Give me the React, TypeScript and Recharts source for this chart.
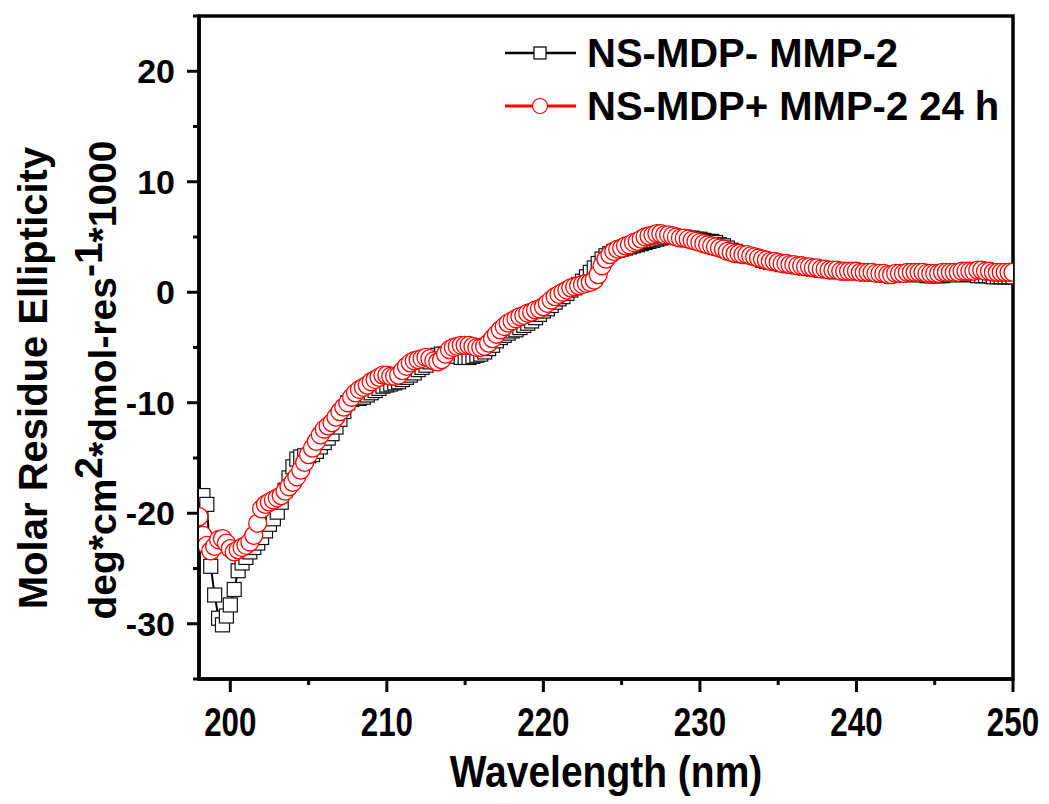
import React from 'react';
import { LineChart, Line, XAxis, YAxis, ReferenceArea } from 'recharts';

const wavelengths = [
  198.0, 198.25, 198.5, 198.75, 199.0, 199.25, 199.5, 199.75,
  200.0, 200.25, 200.5, 200.75, 201.0, 201.25, 201.5, 201.75,
  202.0, 202.25, 202.5, 202.75, 203.0, 203.25, 203.5, 203.75,
  204.0, 204.25, 204.5, 204.75, 205.0, 205.25, 205.5, 205.75,
  206.0, 206.25, 206.5, 206.75, 207.0, 207.25, 207.5, 207.75,
  208.0, 208.25, 208.5, 208.75, 209.0, 209.25, 209.5, 209.75,
  210.0, 210.25, 210.5, 210.75, 211.0, 211.25, 211.5, 211.75,
  212.0, 212.25, 212.5, 212.75, 213.0, 213.25, 213.5, 213.75,
  214.0, 214.25, 214.5, 214.75, 215.0, 215.25, 215.5, 215.75,
  216.0, 216.25, 216.5, 216.75, 217.0, 217.25, 217.5, 217.75,
  218.0, 218.25, 218.5, 218.75, 219.0, 219.25, 219.5, 219.75,
  220.0, 220.25, 220.5, 220.75, 221.0, 221.25, 221.5, 221.75,
  222.0, 222.25, 222.5, 222.75, 223.0, 223.25, 223.5, 223.75,
  224.0, 224.25, 224.5, 224.75, 225.0, 225.25, 225.5, 225.75,
  226.0, 226.25, 226.5, 226.75, 227.0, 227.25, 227.5, 227.75,
  228.0, 228.25, 228.5, 228.75, 229.0, 229.25, 229.5, 229.75,
  230.0, 230.25, 230.5, 230.75, 231.0, 231.25, 231.5, 231.75,
  232.0, 232.25, 232.5, 232.75, 233.0, 233.25, 233.5, 233.75,
  234.0, 234.25, 234.5, 234.75, 235.0, 235.25, 235.5, 235.75,
  236.0, 236.25, 236.5, 236.75, 237.0, 237.25, 237.5, 237.75,
  238.0, 238.25, 238.5, 238.75, 239.0, 239.25, 239.5, 239.75,
  240.0, 240.25, 240.5, 240.75, 241.0, 241.25, 241.5, 241.75,
  242.0, 242.25, 242.5, 242.75, 243.0, 243.25, 243.5, 243.75,
  244.0, 244.25, 244.5, 244.75, 245.0, 245.25, 245.5, 245.75,
  246.0, 246.25, 246.5, 246.75, 247.0, 247.25, 247.5, 247.75,
  248.0, 248.25, 248.5, 248.75, 249.0, 249.25, 249.5, 249.75,
  250.0,
];

const blackSeries: (number | null)[] = [
  null, -18.4, -19.2, -24.8, -27.4, -29.5, -30.1, -29.3,
  -28.3, -26.9, -25.2, -24.5, -24.0, -23.5, -23.1, -22.7,
  -22.2, -21.6, -21.0, -20.5, -19.9, -19.0, -17.9, -16.8,
  -15.8, -15.1, -14.9, -14.8, -14.8, -14.7, -14.4, -14.0,
  -13.6, -13.2, -12.8, -12.2, -11.5, -10.8, -10.0, -9.7,
  -9.6, -9.6, -9.5, -9.3, -9.1, -8.9, -8.7, -8.5,
  -8.4, -8.3, -8.2, -8.1, -7.9, -7.7, -7.5, -7.3,
  -7.0, -6.8, -6.6, -6.3, -6.0, -5.7, -5.6, -5.6,
  -5.6, -5.7, -5.8, -5.9, -5.9, -5.9, -5.8, -5.7,
  -5.6, -5.4, -5.1, -4.8, -4.4, -4.1, -3.9, -3.7,
  -3.5, -3.4, -3.2, -3.0, -2.8, -2.6, -2.3, -2.0,
  -1.7, -1.5, -1.2, -0.9, -0.6, -0.4, -0.1, 0.2,
  0.4, 0.7, 1.0, 1.4, 1.8, 2.2, 2.6, 3.0,
  3.3, 3.5, 3.7, 3.8, 3.9, 4.0, 4.1, 4.2,
  4.3, 4.4, 4.5, 4.6, 4.7, 4.8, 4.9, 5.0,
  5.0, 5.0, 5.0, 5.0, 5.0, 4.9, 4.9, 4.8,
  4.8, 4.7, 4.6, 4.6, 4.5, 4.3, 4.2, 4.0,
  3.8, 3.7, 3.5, 3.4, 3.4, 3.3, 3.2, 3.1,
  2.9, 2.8, 2.7, 2.7, 2.6, 2.5, 2.5, 2.4,
  2.4, 2.3, 2.3, 2.2, 2.2, 2.1, 2.1, 2.0,
  2.0, 2.0, 1.9, 1.9, 1.9, 1.9, 1.8, 1.8,
  1.8, 1.8, 1.8, 1.7, 1.7, 1.7, 1.7, 1.6,
  1.6, 1.6, 1.6, 1.6, 1.6, 1.6, 1.6, 1.6,
  1.6, 1.6, 1.5, 1.5, 1.5, 1.5, 1.5, 1.6,
  1.6, 1.6, 1.6, 1.6, 1.6, 1.6, 1.6, 1.5,
  1.5, 1.5, 1.5, 1.4, 1.4, 1.4, 1.4, 1.4,
  1.4,
];

const redSeries: (number | null)[] = [
  -20.3, -22.0, -22.9, -23.4, -23.0, -22.4, -22.3, -22.7,
  -23.2, -23.5, -23.3, -23.1, -22.9, -22.6, -22.0, -20.9,
  -19.6, -19.2, -19.0, -18.8, -18.6, -18.4, -18.0, -17.6,
  -17.2, -16.7, -16.1, -15.4, -14.7, -14.1, -13.5, -12.9,
  -12.4, -12.1, -11.8, -11.3, -10.8, -10.4, -10.0, -9.5,
  -9.1, -8.8, -8.6, -8.4, -8.1, -7.9, -7.7, -7.5,
  -7.5, -7.6, -7.6, -7.5, -7.1, -6.7, -6.4, -6.2,
  -6.1, -6.0, -5.9, -6.0, -6.2, -6.3, -6.1, -5.6,
  -5.2, -5.0, -4.9, -4.8, -4.8, -4.8, -4.9, -5.0,
  -5.0, -4.9, -4.6, -4.2, -3.8, -3.4, -3.1, -2.8,
  -2.6, -2.4, -2.2, -2.1, -1.9, -1.8, -1.6, -1.5,
  -1.3, -1.0, -0.7, -0.4, -0.2, 0.0, 0.2, 0.4,
  0.5, 0.6, 0.7, 0.8, 0.9, 1.1, 1.6, 2.4,
  3.0, 3.4, 3.7, 3.9, 4.0, 4.2, 4.3, 4.5,
  4.6, 4.8, 5.0, 5.1, 5.2, 5.3, 5.3, 5.2,
  5.2, 5.1, 5.0, 4.9, 4.9, 4.8, 4.7, 4.6,
  4.5, 4.4, 4.3, 4.2, 4.1, 4.0, 3.9, 3.7,
  3.6, 3.5, 3.5, 3.4, 3.4, 3.3, 3.2, 3.1,
  3.0, 2.9, 2.8, 2.8, 2.7, 2.6, 2.6, 2.5,
  2.5, 2.4, 2.4, 2.3, 2.3, 2.2, 2.2, 2.1,
  2.1, 2.0, 2.0, 2.0, 1.9, 1.9, 1.9, 1.9,
  1.9, 1.8, 1.8, 1.8, 1.8, 1.7, 1.7, 1.7,
  1.6, 1.6, 1.7, 1.7, 1.7, 1.8, 1.8, 1.8,
  1.8, 1.8, 1.7, 1.7, 1.7, 1.7, 1.8, 1.8,
  1.8, 1.8, 1.8, 1.9, 1.9, 1.9, 1.9, 2.0,
  2.0, 1.9, 1.9, 1.8, 1.8, 1.8, 1.8, 1.8,
  1.8,
];

const xTicks = [200, 205, 210, 215, 220, 225, 230, 235, 240, 245, 250];
const yTicks = [-35, -30, -25, -20, -15, -10, -5, 0, 5, 10, 15, 20, 25];
const seriesNames = ['NS-MDP- MMP-2', 'NS-MDP+ MMP-2 24 h'];
const xTitle = 'Wavelength (nm)';
const yTitle1 = 'Molar Residue Ellipticity';

const FONT = '"Liberation Sans", Arial, Helvetica, sans-serif';

const data = wavelengths.map((w, i) => ({ w, a: blackSeries[i], b: redSeries[i] }));

const XTick = (props: any) => {
  const { x, y, payload } = props;
  const v = payload.value;
  const major = v % 10 === 0;
  return (
    <g>
      <line x1={x} x2={x} y1={y} y2={y + (major ? 13 : 6)} stroke="#000" strokeWidth={3} />
      {major && (
        <g transform={`translate(${x},${y + 43}) scale(0.95,1.25)`}>
          <text x={0} y={0} textAnchor="middle" dominantBaseline="central" fontFamily={FONT} fontWeight="bold" fontSize={33} fill="#000">
            {v}
          </text>
        </g>
      )}
    </g>
  );
};

const YTick = (props: any) => {
  const { x, y, payload } = props;
  const v = payload.value;
  const major = v % 10 === 0 && v !== -40;
  return (
    <g>
      <line x1={x} x2={x - (major ? 12 : 6)} y1={y} y2={y} stroke="#000" strokeWidth={3} />
      {major && (
        <text x={x - 24} y={y} textAnchor="end" dominantBaseline="central" fontFamily={FONT} fontWeight="bold" fontSize={34} fill="#000">
          {v}
        </text>
      )}
    </g>
  );
};

const renderSquare = (props: any) => {
  const { cx, cy, index, value } = props;
  if (cx == null || cy == null || value == null || Number.isNaN(cy)) return <g key={`s${index}`} />;
  return <rect key={`s${index}`} x={cx - 7} y={cy - 7} width={14} height={14} fill="#fff" stroke="#111" strokeWidth={1.2} />;
};

const renderCircle = (props: any) => {
  const { cx, cy, index, value } = props;
  if (cx == null || cy == null || value == null || Number.isNaN(cy)) return <g key={`c${index}`} />;
  return <circle key={`c${index}`} cx={cx} cy={cy} r={9} fill="#fff" stroke="#ff0000" strokeWidth={1.3} />;
};

export default function App() {
  return (
    <div style={{ position: 'absolute', left: 0, top: 0, width: 1049, height: 804, background: '#fff' }}>
      <LineChart width={1049} height={804} data={data} margin={{ top: 16, right: 36, bottom: 0, left: 0 }}>
        <XAxis
          dataKey="w"
          type="number"
          domain={[198, 250]}
          allowDataOverflow
          ticks={xTicks}
          interval={0}
          tick={XTick}
          tickLine={false}
          tickSize={0}
          tickMargin={0}
          axisLine={{ stroke: '#000', strokeWidth: 3.5 }}
          height={125}
        />
        <YAxis
          type="number"
          domain={[-35, 25]}
          allowDataOverflow
          ticks={yTicks}
          interval={0}
          tick={YTick}
          tickLine={false}
          tickSize={0}
          tickMargin={0}
          axisLine={{ stroke: '#000', strokeWidth: 3.5 }}
          width={199}
        />
        <ReferenceArea x1={198} x2={250} y1={-35} y2={25} fill="none" stroke="#000" strokeWidth={3.5} ifOverflow="visible" />
        <Line dataKey="a" stroke="#000" strokeWidth={2} dot={renderSquare} activeDot={false} isAnimationActive={false} />
        <Line dataKey="b" stroke="#ff0000" strokeWidth={2} dot={renderCircle} activeDot={false} isAnimationActive={false} />
      </LineChart>
      <svg width={1049} height={804} style={{ position: 'absolute', left: 0, top: 0, pointerEvents: 'none' }}>
        <text transform="translate(33,378) rotate(-90)" textAnchor="middle" dominantBaseline="central" fontFamily={FONT} fontWeight="bold" fontSize={40} fill="#000">
          {yTitle1}
        </text>
        <text transform="translate(102,380) rotate(-90)" textAnchor="middle" dominantBaseline="central" fontFamily={FONT} fontWeight="bold" fontSize={39} fill="#000">
          <tspan>deg*cm</tspan>
          <tspan dy={-14}>2</tspan>
          <tspan dy={14}>*dmol-res</tspan>
          <tspan dy={-14}>-1</tspan>
          <tspan dy={14}>*1000</tspan>
        </text>
        <g transform="translate(606,772) scale(1,1.12)">
          <text x={0} y={0} textAnchor="middle" dominantBaseline="central" fontFamily={FONT} fontWeight="bold" fontSize={39} fill="#000">
            {xTitle}
          </text>
        </g>
        <g>
          <line x1={505} x2={576} y1={53} y2={53} stroke="#000" strokeWidth={2.5} />
          <rect x={534} y={47} width={12} height={12} fill="#fff" stroke="#000" strokeWidth={1.2} />
          <text x={587} y={53} dominantBaseline="central" fontFamily={FONT} fontWeight="bold" fontSize={40} fill="#000">
            {seriesNames[0]}
          </text>
          <line x1={505} x2={576} y1={106} y2={106} stroke="#ff0000" strokeWidth={3} />
          <circle cx={540} cy={106} r={7.5} fill="#fff" stroke="#ff0000" strokeWidth={1.2} />
          <text x={587} y={106} dominantBaseline="central" fontFamily={FONT} fontWeight="bold" fontSize={40} fill="#000">
            {seriesNames[1]}
          </text>
        </g>
      </svg>
    </div>
  );
}
